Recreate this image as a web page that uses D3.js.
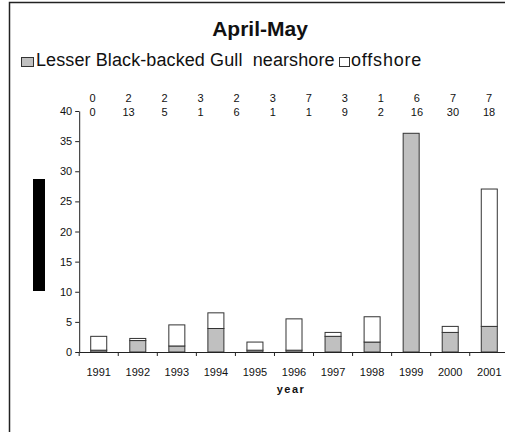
<!DOCTYPE html>
<html>
<head>
<meta charset="utf-8">
<script src="https://cdn.jsdelivr.net/npm/d3@7"></script>
<style>
  html, body { margin: 0; padding: 0; background: #fff; }
  svg { display: block; }
  text { font-family: "Liberation Sans", Arial, sans-serif; fill: #111; }
</style>
</head>
<body>
<svg id="chart" width="505" height="432"></svg>
<script>
// ---- data ----
const years = ["1991","1992","1993","1994","1995","1996","1997","1998","1999","2000","2001"];
const nearshore = [0.3, 1.9, 1.0, 3.9, 0.3, 0.3, 2.6, 1.65, 36.3, 3.25, 4.25];
const offshore  = [2.3, 0.35, 3.5, 2.6, 1.35, 5.2, 0.65, 4.2, 0, 1.0, 22.8];
const yTicks = [0, 5, 10, 15, 20, 25, 30, 35, 40];
const countsRow1 = [0, 2, 2, 3, 2, 3, 7, 3, 1, 6, 7, 7];
const countsRow2 = [0, 13, 5, 1, 6, 1, 1, 9, 2, 16, 30, 18];
const title = "April-May";
const seriesNames = ["Lesser Black-backed Gull\u00a0 nearshore", "offshore"];
const xTitle = "year";

// ---- drawing ----
const svg = d3.select("#chart");
const font = '"Liberation Sans", Arial, sans-serif';

// frame (cut off at right and bottom)
svg.append("path")
  .attr("d", "M9.5,440 L9.5,2.5 L520,2.5")
  .attr("fill", "none").attr("stroke", "#222").attr("stroke-width", 1.5);

const x = d3.scaleBand().domain(years).range([79.2, 508.8])
  .paddingInner(0.59).paddingOuter(0.295);
const y = d3.scaleLinear().domain([0, 40]).range([352, 111]);
const step = x.step(), bw = x.bandwidth();

// title
svg.append("text").attr("x", 260).attr("y", 36).attr("text-anchor", "middle")
  .style("font-size", "21px").style("font-weight", "bold").text(title);

// legend
svg.append("rect").attr("x", 21.5).attr("y", 57.5).attr("width", 12).attr("height", 9)
  .attr("fill", "#c0c0c0").attr("stroke", "#333").attr("stroke-width", 1);
svg.append("text").attr("x", 36).attr("y", 65.5).style("font-size", "18px")
  .style("letter-spacing", "0.1px").style("white-space", "pre").text(seriesNames[0]);
svg.append("rect").attr("x", 339.5).attr("y", 57.5).attr("width", 10).attr("height", 9)
  .attr("fill", "#fff").attr("stroke", "#333").attr("stroke-width", 1);
svg.append("text").attr("x", 351).attr("y", 65.5).style("font-size", "18px")
  .style("letter-spacing", "0.8px").text(seriesNames[1]);

// black box (masked y title)
svg.append("rect").attr("x", 33).attr("y", 179).attr("width", 12).attr("height", 112).attr("fill", "#000");

// count rows
const px = d3.scalePoint().domain(d3.range(countsRow1.length)).range([92.5, 489]);
svg.append("g").selectAll("text").data(countsRow1).join("text")
  .attr("x", (d, i) => px(i)).attr("y", 102).attr("text-anchor", "middle")
  .style("font-size", "11px").text(d => d);
svg.append("g").selectAll("text").data(countsRow2).join("text")
  .attr("x", (d, i) => px(i)).attr("y", 116).attr("text-anchor", "middle")
  .style("font-size", "11px").text(d => d);

// bars
const data = years.map((yr, i) => ({ yr, near: nearshore[i], off: offshore[i] }));
const bars = svg.append("g");
bars.selectAll("rect.near").data(data).join("rect").attr("class", "near")
  .attr("x", d => x(d.yr)).attr("width", bw)
  .attr("y", d => y(d.near)).attr("height", d => y(0) - y(d.near))
  .attr("fill", "#c0c0c0").attr("stroke", "#333").attr("stroke-width", 1);
bars.selectAll("rect.off").data(data.filter(d => d.off > 0)).join("rect").attr("class", "off")
  .attr("x", d => x(d.yr)).attr("width", bw)
  .attr("y", d => y(d.near + d.off)).attr("height", d => y(d.near) - y(d.near + d.off))
  .attr("fill", "#fff").attr("stroke", "#333").attr("stroke-width", 1);

// y axis
const yAxis = svg.append("g").attr("transform", "translate(79.2,0)")
  .call(d3.axisLeft(y).tickValues(yTicks).tickSize(4).tickSizeOuter(0).tickPadding(3));
yAxis.selectAll("text").style("font-size", "11px").style("font-family", font).attr("fill", "#111");
yAxis.selectAll("line,path").attr("stroke", "#222");

// x axis
const xAxis = svg.append("g").attr("transform", "translate(0,352)")
  .call(d3.axisBottom(x).tickSize(0).tickPadding(16));
xAxis.select(".domain").attr("stroke", "#222");
xAxis.selectAll("text").style("font-size", "11px").style("font-family", font).attr("fill", "#111");
const bounds = years.map(yr => x(yr) - (step - bw) / 2).concat([x(years[years.length - 1]) + bw + (step - bw) / 2]);
xAxis.append("g").selectAll("line").data(bounds).join("line")
  .attr("x1", d => d).attr("x2", d => d).attr("y1", 0).attr("y2", 4)
  .attr("stroke", "#222");

// x title
svg.append("text").attr("x", 291).attr("y", 393).attr("text-anchor", "middle")
  .style("font-size", "11px").style("font-weight", "bold").style("letter-spacing", "1.5px")
  .text(xTitle);
</script>
</body>
</html>
